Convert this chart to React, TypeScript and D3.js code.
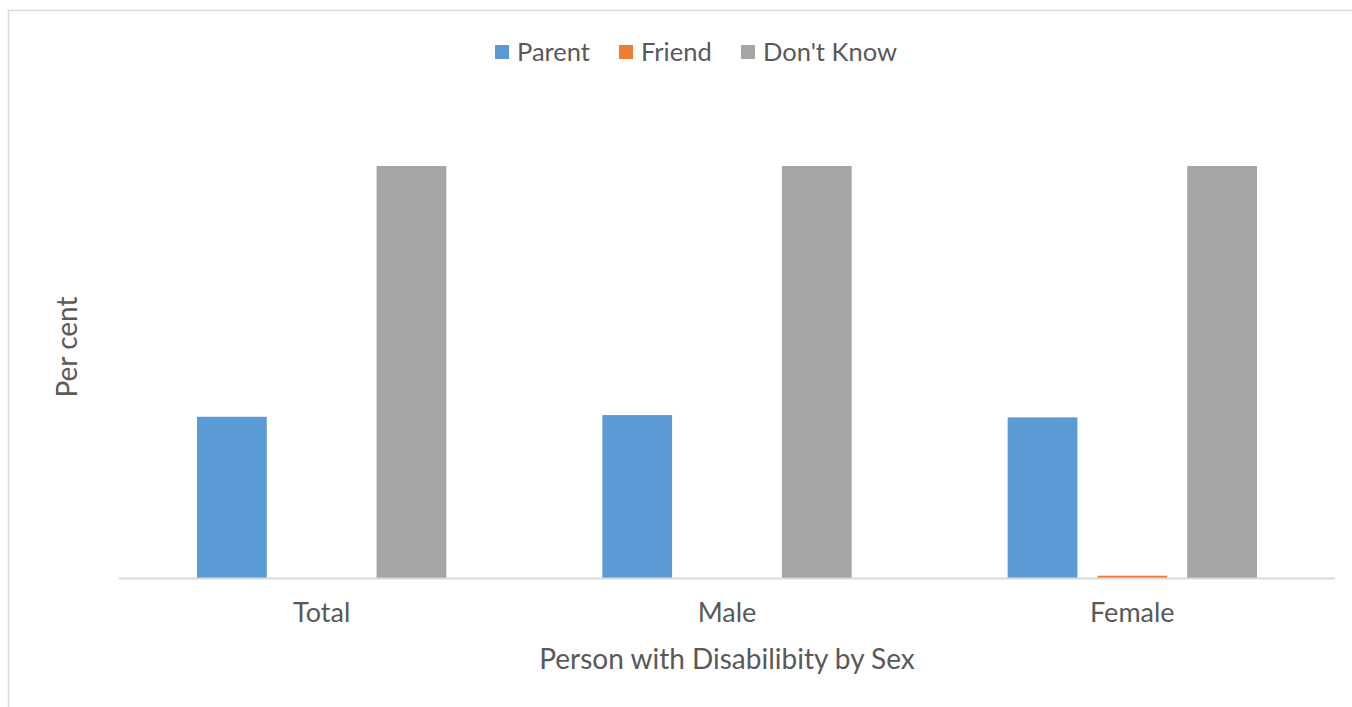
import React from "react";
import * as d3 from "d3";

const categories = ["Total", "Male", "Female"];
const seriesNames = ["Parent", "Friend", "Don't Know"];
const parentValues = [28.1, 28.4, 28.0];
const friendValues = [0, 0, 0.4];
const dontKnowValues = [71.8, 71.8, 71.8];

const colors = ["#5b9bd5", "#ed7d31", "#a5a5a5"];
const FONT = "Lato, 'Open Sans', sans-serif";
const TEXT = "#595959";

export default function App() {
  const W = 1352;
  const H = 707;
  const left = 119;
  const right = 1335;
  const baseY = 578;

  const series = [parentValues, friendValues, dontKnowValues];

  const x0 = d3.scaleBand<string>().domain(categories).range([left, right]).paddingInner(0).paddingOuter(0);
  const groupOffset = 78;
  const x1 = d3
    .scaleBand<string>()
    .domain(seriesNames)
    .range([groupOffset, x0.bandwidth() - groupOffset])
    .paddingInner(0.223)
    .paddingOuter(0);
  const y = d3.scaleLinear().domain([0, 80]).range([baseY, 119]);

  // legend layout
  const legendItems = [
    { name: seriesNames[0], x: 495 },
    { name: seriesNames[1], x: 619 },
    { name: seriesNames[2], x: 741 },
  ];

  return (
    <svg
      width={W}
      height={H}
      style={{ position: "absolute", left: 0, top: 0, background: "#fff" }}
    >
      <rect x={8.5} y={10.5} width={W} height={H} fill="#fff" stroke="#d9d9d9" strokeWidth={1.5} />

      {categories.map((c, ci) => (
        <g key={c} transform={`translate(${x0(c)},0)`}>
          {seriesNames.map((s, si) => {
            const v = series[si][ci];
            if (v <= 0) return null;
            const yTop = y(v);
            return (
              <rect
                key={s}
                x={x1(s)}
                y={yTop}
                width={x1.bandwidth()}
                height={baseY - yTop}
                fill={colors[si]}
              />
            );
          })}
          <text
            x={x0.bandwidth() / 2}
            y={622}
            textAnchor="middle"
            fontFamily={FONT}
            fontSize={27}
            fill={TEXT}
          >
            {c}
          </text>
        </g>
      ))}

      <line x1={left} x2={right} y1={baseY + 0.5} y2={baseY + 0.5} stroke="#d9d9d9" strokeWidth={2} />

      {legendItems.map((item, i) => (
        <g key={item.name}>
          <rect x={item.x} y={45} width={14} height={14} fill={colors[i]} />
          <text x={item.x + 22} y={61} fontFamily={FONT} fontSize={25.5} fill={TEXT}>
            {item.name}
          </text>
        </g>
      ))}

      <text
        x={727}
        y={669}
        textAnchor="middle"
        fontFamily={FONT}
        fontSize={28}
        fill={TEXT}
      >
        Person with Disabilibity by Sex
      </text>
      <text
        transform="translate(77,347) rotate(-90)"
        textAnchor="middle"
        fontFamily={FONT}
        fontSize={28}
        fill={TEXT}
      >
        Per cent
      </text>
    </svg>
  );
}
